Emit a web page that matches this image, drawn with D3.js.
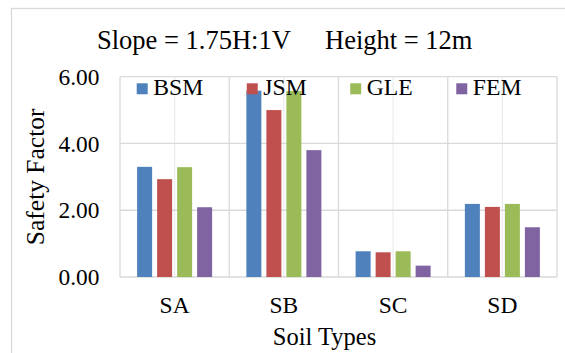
<!DOCTYPE html>
<html>
<head>
<meta charset="utf-8">
<script src="https://cdn.jsdelivr.net/npm/d3@7"></script>
<style>
    body { margin: 0; background: #fff; }
    text { font-family: "Liberation Serif", "Times New Roman", serif; fill: #000; }
</style>
</head>
<body>
<div id="chart"></div>
<script>
// Chart data
const soilTypes = ["SA", "SB", "SC", "SD"];
const methods = ["BSM", "JSM", "GLE", "FEM"];
const bsmValues = [3.30, 5.58, 0.77, 2.19];
const jsmValues = [2.93, 5.00, 0.74, 2.10];
const gleValues = [3.29, 5.57, 0.77, 2.19];
const femValues = [2.09, 3.80, 0.34, 1.49];
const yTicks = [0, 2, 4, 6];
const colors = ["#4F81BD", "#C0504D", "#9BBB59", "#8064A2"];

const seriesValues = [bsmValues, jsmValues, gleValues, femValues];

const width = 565, height = 353;
const plot = { left: 120, right: 557, top: 76.7, bottom: 277 };

const svg = d3.select("#chart").append("svg")
    .attr("width", width)
    .attr("height", height);

// outer chart border (cut off at right and bottom)
svg.append("rect")
    .attr("x", 11.5)
    .attr("y", 8.5)
    .attr("width", 600)
    .attr("height", 400)
    .attr("fill", "none")
    .attr("stroke", "#d9d9d9")
    .attr("stroke-width", 1.3);

const x0 = d3.scaleBand()
    .domain(soilTypes)
    .range([plot.left, plot.right])
    .paddingInner(0)
    .paddingOuter(0);

const x1 = d3.scaleBand()
    .domain(methods)
    .range([0, x0.bandwidth()])
    .paddingInner(0.25)
    .paddingOuter(0.856);

const y = d3.scaleLinear()
    .domain([0, 6])
    .range([plot.bottom, plot.top]);

// gridlines at category centres (lighter)
svg.selectAll(".midline")
    .data(soilTypes)
    .enter()
    .append("line")
    .attr("x1", d => x0(d) + x0.bandwidth() / 2)
    .attr("x2", d => x0(d) + x0.bandwidth() / 2)
    .attr("y1", plot.top)
    .attr("y2", plot.bottom)
    .attr("stroke", "#ececec")
    .attr("stroke-width", 1.2);

// horizontal gridlines
svg.selectAll(".hgrid")
    .data(yTicks)
    .enter()
    .append("line")
    .attr("x1", plot.left)
    .attr("x2", plot.right)
    .attr("y1", d => y(d))
    .attr("y2", d => y(d))
    .attr("stroke", "#d9d9d9")
    .attr("stroke-width", 1.3);

// category boundaries
const bounds = soilTypes.map(d => x0(d)).concat([plot.right]);
svg.selectAll(".vgrid")
    .data(bounds)
    .enter()
    .append("line")
    .attr("x1", d => d)
    .attr("x2", d => d)
    .attr("y1", plot.top)
    .attr("y2", plot.bottom)
    .attr("stroke", "#d9d9d9")
    .attr("stroke-width", 1.3);

// bars
const groups = svg.selectAll(".group")
    .data(soilTypes)
    .enter()
    .append("g")
    .attr("transform", d => `translate(${x0(d)},0)`);

groups.selectAll("rect")
    .data((d, i) => methods.map((m, j) => ({ method: m, value: seriesValues[j][i], color: colors[j] })))
    .enter()
    .append("rect")
    .attr("x", d => x1(d.method))
    .attr("y", d => y(d.value))
    .attr("width", x1.bandwidth())
    .attr("height", d => y(0) - y(d.value))
    .attr("fill", d => d.color);

// y tick labels
svg.selectAll(".ylabel")
    .data(yTicks)
    .enter()
    .append("text")
    .attr("x", 99.5)
    .attr("y", d => y(d))
    .attr("dy", "0.35em")
    .attr("text-anchor", "end")
    .style("font-size", "23.4px")
    .text(d => d.toFixed(2));

// x category labels
svg.selectAll(".xlabel")
    .data(soilTypes)
    .enter()
    .append("text")
    .attr("x", d => x0(d) + x0.bandwidth() / 2)
    .attr("y", 313)
    .attr("text-anchor", "middle")
    .style("font-size", "23.5px")
    .text(d => d);

// axis titles
svg.append("text")
    .attr("x", 324.5)
    .attr("y", 345)
    .attr("text-anchor", "middle")
    .style("font-size", "24.5px")
    .text("Soil Types");

svg.append("text")
    .attr("transform", `translate(43.5,${(plot.top + plot.bottom) / 2}) rotate(-90)`)
    .attr("text-anchor", "middle")
    .style("font-size", "25.5px")
    .text("Safety Factor");

// chart title
const title = svg.append("text")
    .attr("x", 97)
    .attr("y", 49)
    .style("font-size", "26.5px");
title.append("tspan").text("Slope = 1.75H:1V");
title.append("tspan").attr("x", 325).text("Height = 12m");

// legend
let lx = 136.7;
methods.forEach((m, i) => {
    svg.append("rect")
        .attr("x", lx)
        .attr("y", 83.3)
        .attr("width", 11)
        .attr("height", 11)
        .attr("fill", colors[i]);
    const t = svg.append("text")
        .attr("x", lx + 16.5)
        .attr("y", 95)
        .style("font-size", "23.7px")
        .text(m);
    lx += 16.5 + t.node().getComputedTextLength() + 43.5;
});
</script>
</body>
</html>
